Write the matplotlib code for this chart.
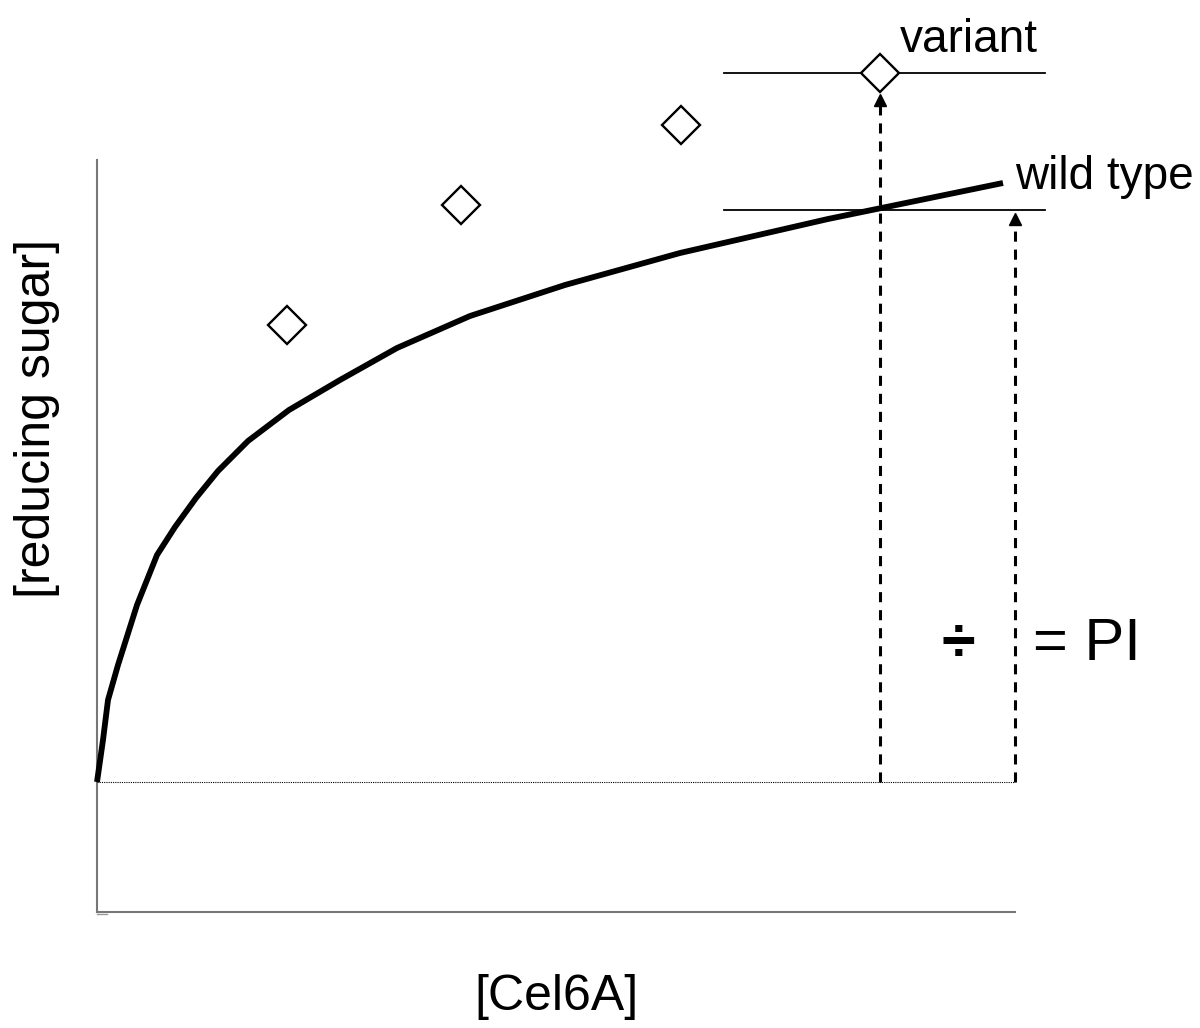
import numpy as np
import matplotlib.pyplot as plt

plt.rcParams['font.family'] = ['Liberation Sans', 'DejaVu Sans']

# wild type curve ([Cel6A] vs [reducing sugar], arbitrary units)
wt_x = [0, 0.06, 0.11, 0.21, 0.40, 0.60, 0.78, 0.99, 1.21, 1.51, 1.92,
        2.43, 3.00, 3.73, 4.68, 5.83, 7.31, 9.06]
wt_y = [0, 0.42, 0.82, 1.17, 1.77, 2.27, 2.55, 2.84, 3.11, 3.41, 3.72,
        4.02, 4.34, 4.66, 4.97, 5.29, 5.63, 5.99]

# variant points
var_x = [1.90, 3.64, 5.84, 7.83]
var_y = [4.57, 5.77, 6.57, 7.09]

# reference levels and dashed arrows
level_x = [6.27, 9.48]
var_level = 7.09
wt_level = 5.72
arrow_var_x = 7.83
arrow_wt_x = 9.18
x_end = 9.18
y_floor = -1.30
y_top = 6.22

fig = plt.figure(figsize=(12, 10.28), dpi=100)
ax = fig.add_axes([0, 0, 1, 1])
ax.set_xlim(-0.97, 11.03)
ax.set_ylim(-2.46, 7.82)
ax.axis('off')

# frame (hand-drawn axes)
ax.plot([0, 0], [y_floor, y_top], color='#777777', lw=1.5)
ax.plot([0, x_end], [y_floor, y_floor], color='#777777', lw=1.5)
ax.plot([0, 0.1], [y_floor - 0.02, y_floor - 0.02], color='#999999', lw=1)
ax.plot([0, x_end], [0, 0], color='black', lw=0.8, ls=(0, (1, 1)))

# horizontal reference lines
ax.plot(level_x, [var_level, var_level], color='black', lw=1.3)
ax.plot(level_x, [wt_level, wt_level], color='black', lw=1.3)

# dashed arrows
dash = (0, (3.3, 2.6))
ax.plot([arrow_var_x, arrow_var_x], [0, var_level - 0.25], color='black',
        lw=2.2, ls=dash)
ax.plot([arrow_var_x], [var_level - 0.27], marker='^', color='black', ms=9)
ax.plot([arrow_wt_x, arrow_wt_x], [0, wt_level - 0.06], color='black',
        lw=2.2, ls=dash)
ax.plot([arrow_wt_x], [wt_level - 0.09], marker='^', color='black', ms=9)

# wild type curve
ax.plot(wt_x, wt_y, color='black', lw=4.2, solid_capstyle='butt',
        solid_joinstyle='round', zorder=4)

# variant diamonds
ax.plot(var_x, var_y, ls='none', marker='D', ms=19.5, mfc='white',
        mec='black', mew=1.7, zorder=5)

# text
ax.text(8.03, 7.42, 'variant', fontsize=33, ha='left', va='center')
ax.text(9.18, 6.05, 'wild type', fontsize=33, ha='left', va='center')
ax.text(8.61, 1.37, '÷', fontsize=44, fontweight='bold', ha='center',
        va='center')
ax.text(9.36, 1.37, '= PI', fontsize=43, ha='left', va='center')
ax.text(4.59, -2.15, '[Cel6A]', fontsize=36, ha='center', va='center')
ax.text(-0.60, 3.64, '[reducing sugar]', fontsize=36, ha='center',
        va='center', rotation=90)

fig.savefig('out.png', dpi=100)
